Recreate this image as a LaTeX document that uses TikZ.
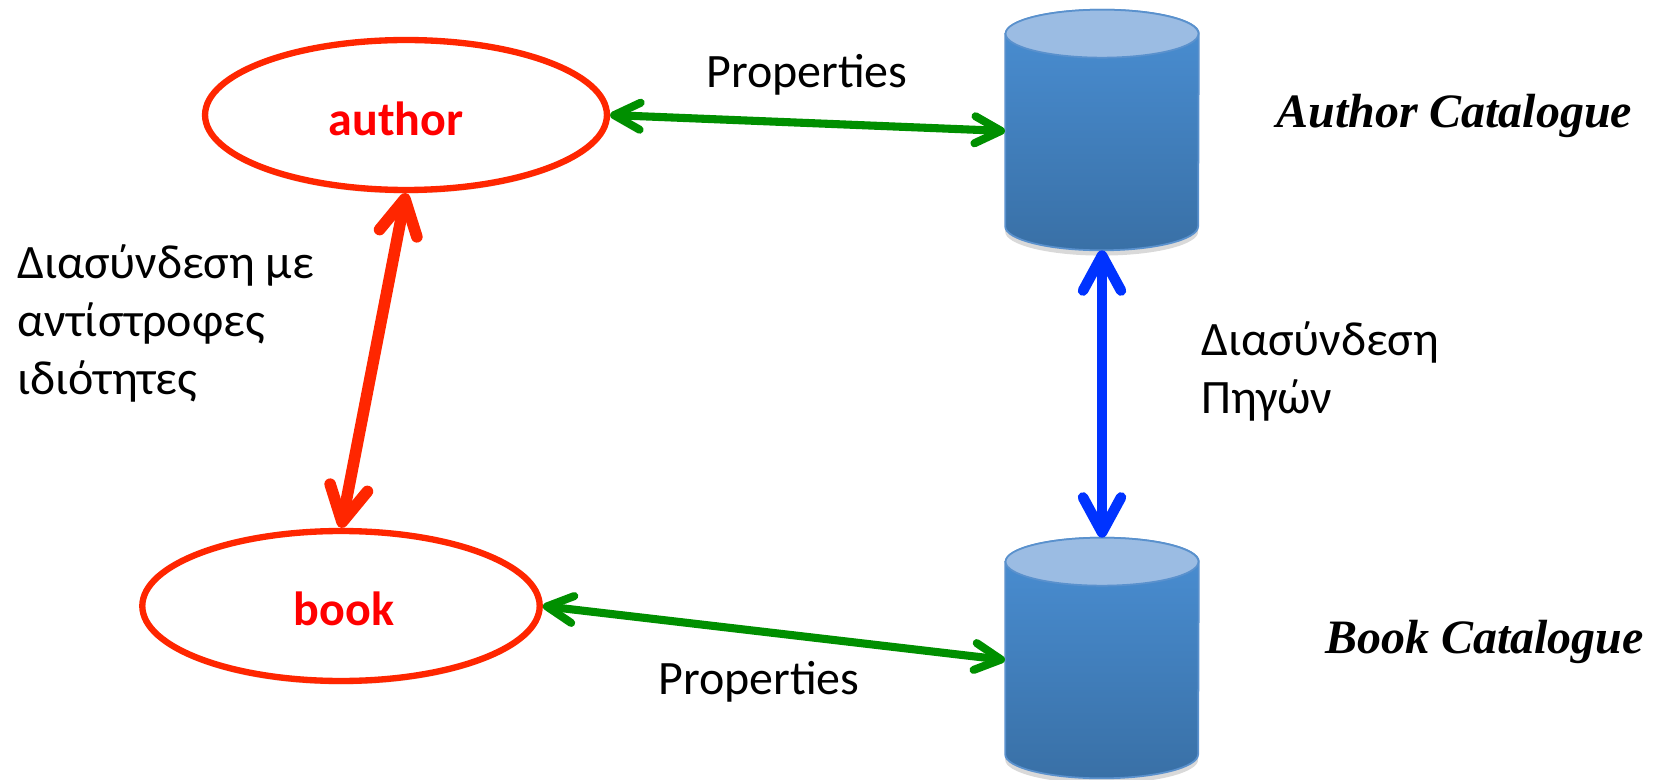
\documentclass[tikz,border=0pt]{standalone}
\usepackage{fontspec}
\setmainfont{Carlito}
\newfontfamily\catfont{Liberation Serif}
\usetikzlibrary{arrows.meta,calc,shadows,shapes.geometric}
\definecolor{ovalred}{RGB}{255,38,0}
\definecolor{textred}{RGB}{255,0,0}
\definecolor{linkgreen}{RGB}{0,143,0}
\definecolor{linkblue}{RGB}{0,51,255}
\definecolor{cyltop}{RGB}{74,143,212}
\definecolor{cylbottom}{RGB}{57,112,166}
\definecolor{cylcap}{RGB}{155,188,227}
\definecolor{cylline}{RGB}{90,145,205}
\tikzset{
    x=0.02cm, y=-0.02cm,
    entity/.style={ellipse, draw=ovalred, line width=3.6pt, fill=white, inner sep=0pt,
        minimum width=8.04cm, minimum height=3cm,
        drop shadow={shadow xshift=0pt, shadow yshift=-2pt, opacity=0.2}},
    entitytext/.style={inner sep=0pt, text=textred, font=\fontsize{27.3}{32}\selectfont\bfseries},
    catalogue/.style={rectangle, inner sep=0pt, minimum width=3.86cm, minimum height=4.8cm},
    cylbody/.style={draw=cylline, line width=1pt, top color=cyltop, bottom color=cylbottom,
        drop shadow={shadow xshift=0pt, shadow yshift=-3pt, opacity=0.3}},
    cylcapfill/.style={fill=cylcap, draw=cylline, line width=1pt},
    labeltext/.style={align=left, anchor=north west, inner sep=0pt, font=\fontsize{27.3}{33}\selectfont},
    cattext/.style={anchor=west, inner sep=0pt, font=\fontsize{27.3}{32}\catfont\bfseries\itshape},
    thinlink/.style={line width=4.6pt, {Straight Barb[round,length=5.2mm,width=5.4mm]}-{Straight Barb[round,length=5.2mm,width=5.4mm]}},
    thicklink/.style={line width=6pt, {Straight Barb[round,length=7mm,width=7.6mm]}-{Straight Barb[round,length=7mm,width=7.6mm]}}
}
\begin{document}
\begin{tikzpicture}
    \useasboundingbox (0,0) rectangle (1657,780);

    % Ovals
    \node[entity] (author) at (406,115) {};
    \node[entity, minimum width=7.95cm] (book) at (341,606) {};
    \node[entitytext] (authortext) at (396,119) {author};
    \node[entitytext] (booktext) at (344,609) {book};

    % Catalogues
    \node[catalogue] (authorcat) at (1102,130) {};
    \node[catalogue] (bookcat) at (1102,658) {};
    \foreach \cat in {authorcat,bookcat} {
        \path[cylbody] ($(\cat.north west)+(0,24)$) -- ($(\cat.south west)-(0,24)$)
            arc[start angle=180, end angle=360, x radius=1.93cm, y radius=0.48cm]
            -- ($(\cat.north east)+(0,24)$)
            arc[start angle=0, end angle=180, x radius=1.93cm, y radius=0.48cm] -- cycle;
        \path[cylcapfill] ($(\cat.north)+(0,24)$) ellipse (1.93cm and 0.48cm);
    }

    % Arrows
    \coordinate (authorin) at (1005,131);
    \coordinate (bookin) at (1005,660);
    \draw[thinlink, linkgreen] (author.east) -- (authorin);
    \draw[thinlink, linkgreen] (book.east) -- (bookin);
    \draw[thicklink, line width=6.6pt, ovalred] (author.south) -- (book.north);
    \draw[thicklink, linkblue] (authorcat.south) -- (bookcat.north);

    % Labels
    \node[labeltext] (propa) at (706,54) {Properties};
    \node[labeltext] (propb) at (658,661) {Properties};
    \node[labeltext] (invlink) at (17,244) {Διασύνδεση με\\αντίστροφες\\ιδιότητες};
    \node[labeltext] (srclink) at (1201,321) {Διασύνδεση\\Πηγών};
    \node[cattext] (authorname) at (1276,116) {Author Catalogue};
    \node[cattext] (bookname) at (1325,642) {Book Catalogue};
\end{tikzpicture}
\end{document}
